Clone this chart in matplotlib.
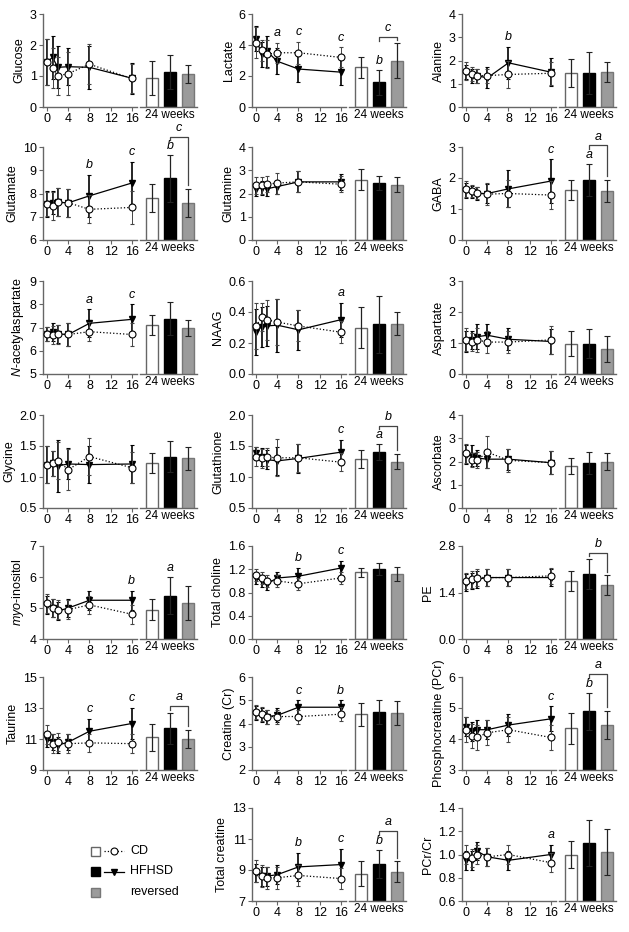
import matplotlib.pyplot as plt
from matplotlib.patches import Rectangle
from matplotlib.lines import Line2D

plt.rcParams['font.family'] = ['Liberation Sans', 'DejaVu Sans']
plt.rcParams['mathtext.fontset'] = 'custom'
plt.rcParams['mathtext.rm'] = 'Liberation Sans'
plt.rcParams['mathtext.it'] = 'Liberation Sans:italic'

# data
weeks = [0, 1, 2, 4, 8, 16]
groups = ['CD', 'HFHSD', 'reversed']

names = ['Glucose', 'Lactate', 'Alanine',
         'Glutamate', 'Glutamine', 'GABA',
         r'$\it{N}$-acetylaspartate', 'NAAG', 'Aspartate',
         'Glycine', 'Glutathione', 'Ascorbate',
         r'$\it{myo}$-inositol', 'Total choline', 'PE',
         'Taurine', 'Creatine (Cr)', 'Phosphocreatine (PCr)',
         'Total creatine', 'PCr/Cr']

cd_mean = [[1.45, 1.25, 1.0, 1.08, 1.38, 0.92],
           [4.15, 3.65, 3.4, 3.5, 3.5, 3.2],
           [1.55, 1.4, 1.35, 1.35, 1.4, 1.45],
           [7.55, 7.45, 7.62, 7.6, 7.32, 7.4],
           [2.35, 2.35, 2.4, 2.45, 2.5, 2.4],
           [1.65, 1.58, 1.52, 1.48, 1.5, 1.45],
           [6.72, 6.68, 6.7, 6.7, 6.82, 6.7],
           [0.31, 0.365, 0.35, 0.335, 0.31, 0.27],
           [1.1, 1.03, 1.1, 1.03, 1.03, 1.1],
           [1.2, 1.22, 1.26, 1.12, 1.33, 1.15],
           [1.33, 1.3, 1.32, 1.31, 1.31, 1.24],
           [2.35, 2.05, 2.05, 2.4, 2.05, 1.95],
           [5.15, 5.0, 4.95, 4.95, 5.1, 4.8],
           [1.1, 1.05, 1.0, 1.0, 0.95, 1.05],
           [1.75, 1.8, 1.85, 1.85, 1.85, 1.9],
           [11.3, 10.7, 10.8, 10.7, 10.75, 10.7],
           [4.5, 4.4, 4.3, 4.3, 4.3, 4.4],
           [4.3, 4.1, 4.05, 4.2, 4.3, 4.05],
           [8.95, 8.6, 8.5, 8.5, 8.65, 8.45],
           [1.0, 0.97, 1.0, 0.98, 1.0, 0.93]]
cd_sd = [[0.75, 0.65, 0.6, 0.7, 0.65, 0.47],
         [1.0, 0.7, 0.9, 0.65, 0.7, 0.65],
         [0.4, 0.3, 0.3, 0.3, 0.6, 0.5],
         [0.5, 0.6, 0.6, 0.6, 0.6, 0.7],
         [0.35, 0.35, 0.35, 0.45, 0.45, 0.35],
         [0.25, 0.2, 0.2, 0.35, 0.45, 0.45],
         [0.3, 0.4, 0.4, 0.5, 0.4, 0.5],
         [0.15, 0.09, 0.13, 0.15, 0.1, 0.07],
         [0.37, 0.3, 0.4, 0.35, 0.35, 0.45],
         [0.3, 0.2, 0.3, 0.33, 0.3, 0.25],
         [0.15, 0.15, 0.15, 0.3, 0.23, 0.15],
         [0.4, 0.3, 0.35, 0.7, 0.5, 0.5],
         [0.3, 0.3, 0.3, 0.3, 0.3, 0.3],
         [0.1, 0.1, 0.1, 0.1, 0.1, 0.1],
         [0.25, 0.25, 0.25, 0.25, 0.25, 0.25],
         [0.6, 0.6, 0.6, 0.6, 0.6, 0.6],
         [0.3, 0.3, 0.3, 0.3, 0.3, 0.3],
         [0.4, 0.4, 0.4, 0.4, 0.4, 0.4],
         [0.7, 0.7, 0.7, 0.7, 0.7, 0.7],
         [0.08, 0.08, 0.08, 0.08, 0.08, 0.08]]
hf_mean = [[1.45, 1.6, 1.28, 1.3, 1.28, 0.93],
           [4.4, 3.4, 3.6, 2.95, 2.45, 2.25],
           [1.5, 1.35, 1.35, 1.25, 1.9, 1.5],
           [7.55, 7.6, 7.62, 7.6, 7.9, 8.45],
           [2.2, 2.25, 2.2, 2.3, 2.5, 2.5],
           [1.6, 1.55, 1.5, 1.5, 1.65, 1.9],
           [6.72, 6.8, 6.72, 6.7, 7.18, 7.35],
           [0.27, 0.305, 0.31, 0.315, 0.285, 0.35],
           [1.05, 1.1, 1.2, 1.25, 1.12, 1.05],
           [1.2, 1.22, 1.18, 1.21, 1.2, 1.21],
           [1.38, 1.32, 1.28, 1.26, 1.3, 1.4],
           [2.3, 2.25, 2.15, 2.1, 2.1, 1.95],
           [5.1, 5.0, 4.9, 5.0, 5.25, 5.25],
           [1.05, 1.0, 0.95, 1.05, 1.08, 1.22],
           [1.7, 1.75, 1.8, 1.85, 1.85, 1.85],
           [11.0, 10.8, 10.6, 10.8, 11.5, 12.0],
           [4.45, 4.35, 4.3, 4.35, 4.7, 4.7],
           [4.4, 4.25, 4.3, 4.3, 4.45, 4.65],
           [8.8, 8.6, 8.6, 8.7, 9.2, 9.35],
           [0.95, 0.95, 1.03, 0.98, 0.95, 1.0]]
hf_sd = [[0.75, 0.7, 0.68, 0.6, 0.7, 0.5],
         [0.8, 0.8, 1.0, 0.85, 0.85, 0.85],
         [0.3, 0.3, 0.3, 0.45, 0.7, 0.6],
         [0.55, 0.5, 0.6, 0.6, 0.9, 0.9],
         [0.3, 0.3, 0.3, 0.3, 0.45, 0.35],
         [0.25, 0.2, 0.2, 0.3, 0.6, 0.7],
         [0.3, 0.4, 0.4, 0.5, 0.6, 0.65],
         [0.15, 0.13, 0.13, 0.17, 0.13, 0.11],
         [0.35, 0.3, 0.4, 0.35, 0.35, 0.4],
         [0.3, 0.2, 0.42, 0.25, 0.3, 0.3],
         [0.1, 0.15, 0.15, 0.23, 0.23, 0.2],
         [0.4, 0.45, 0.35, 0.4, 0.45, 0.5],
         [0.3, 0.3, 0.3, 0.3, 0.3, 0.3],
         [0.1, 0.1, 0.1, 0.1, 0.15, 0.13],
         [0.25, 0.25, 0.25, 0.25, 0.25, 0.25],
         [0.5, 0.5, 0.5, 0.5, 0.8, 1.0],
         [0.3, 0.3, 0.3, 0.3, 0.3, 0.3],
         [0.3, 0.3, 0.3, 0.3, 0.35, 0.4],
         [0.6, 0.6, 0.6, 0.6, 0.9, 1.0],
         [0.08, 0.08, 0.08, 0.08, 0.08, 0.08]]
bar_mean = [[0.93, 1.12, 1.07], [2.55, 1.6, 3.0], [1.45, 1.45, 1.5],
            [7.8, 8.65, 7.6], [2.6, 2.45, 2.38], [1.62, 1.93, 1.58],
            [7.1, 7.38, 6.97], [0.3, 0.32, 0.325], [0.98, 0.98, 0.82],
            [1.23, 1.33, 1.3], [1.29, 1.4, 1.25], [1.82, 1.95, 2.0],
            [4.95, 5.4, 5.15], [1.15, 1.2, 1.12], [1.75, 1.95, 1.62],
            [11.1, 11.7, 11.0], [4.4, 4.5, 4.45], [4.35, 4.9, 4.45],
            [8.75, 9.4, 8.9], [1.0, 1.1, 1.02]]
bar_sd = [[0.55, 0.55, 0.3], [0.65, 0.8, 1.1], [0.6, 0.9, 0.42],
          [0.6, 1.0, 0.6], [0.45, 0.3, 0.32], [0.33, 0.52, 0.35],
          [0.42, 0.7, 0.35], [0.13, 0.185, 0.075], [0.4, 0.47, 0.42],
          [0.16, 0.25, 0.19], [0.15, 0.13, 0.12], [0.35, 0.48, 0.38],
          [0.35, 0.6, 0.55], [0.08, 0.1, 0.12], [0.3, 0.45, 0.3],
          [0.9, 1.0, 0.6], [0.5, 0.5, 0.5], [0.5, 0.6, 0.45],
          [0.8, 0.9, 0.65], [0.12, 0.2, 0.2]]

# significance letters: time point letters, letter over HFHSD bar, bracket HFHSD vs reversed
time_letters = [{}, {4: 'a', 8: 'c', 16: 'c'}, {8: 'b'},
                {8: 'b', 16: 'c'}, {}, {16: 'c'},
                {8: 'a', 16: 'c'}, {16: 'a'}, {},
                {}, {16: 'c'}, {},
                {16: 'b'}, {8: 'b', 16: 'c'}, {},
                {8: 'c', 16: 'c'}, {8: 'c', 16: 'b'}, {16: 'c'},
                {8: 'b', 16: 'c'}, {16: 'a'}]
bar_letters = ['', 'b', '', 'b', '', 'a', '', '', '', '', 'a', '',
               'a', '', '', '', '', 'b', 'b', '']
bracket_letters = ['', 'c', '', 'c', '', 'a', '', '', '', '', 'b', '',
                   '', '', 'b', 'a', '', 'a', 'a', '']

ylims = [(0, 3), (0, 6), (0, 4), (6, 10), (0, 4), (0, 3), (5, 9), (0, 0.6),
         (0, 3), (0.5, 2.0), (0.5, 2.0), (0, 4), (4, 7), (0, 1.6), (0, 2.8),
         (9, 15), (2, 6), (3, 6), (7, 13), (0.6, 1.4)]
yticks = [[0, 1, 2, 3], [0, 2, 4, 6], [0, 1, 2, 3, 4], [6, 7, 8, 9, 10],
          [0, 1, 2, 3, 4], [0, 1, 2, 3], [5, 6, 7, 8, 9], [0.0, 0.2, 0.4, 0.6],
          [0, 1, 2, 3], [0.5, 1.0, 1.5, 2.0], [0.5, 1.0, 1.5, 2.0], [0, 1, 2, 3, 4],
          [4, 5, 6, 7], [0.0, 0.4, 0.8, 1.2, 1.6], [0.0, 1.4, 2.8],
          [9, 11, 13, 15], [2, 3, 4, 5, 6], [3, 4, 5, 6], [7, 9, 11, 13],
          [0.6, 0.8, 1.0, 1.2, 1.4]]
ytick_fmt = ['{:.0f}', '{:.0f}', '{:.0f}', '{:.0f}', '{:.0f}', '{:.0f}', '{:.0f}', '{:.1f}',
             '{:.0f}', '{:.1f}', '{:.1f}', '{:.0f}', '{:.0f}', '{:.1f}', '{:.1f}',
             '{:.0f}', '{:.0f}', '{:.0f}', '{:.0f}', '{:.1f}']

# layout (pixels)
W, H = 629, 932
fig = plt.figure(figsize=(W / 100, H / 100), dpi=100)
col_x = [43, 252, 462]
row_y = [14, 147, 281, 415, 546, 677, 808]
line_w, bar_off, bar_w, ax_h = 94, 97, 57, 93
slots = [i for i in range(21) if i != 18]
spine_c = '#666666'
bar_colors = ['white', 'black', '#9b9b9b']
bar_edges = ['#666666', 'black', '#777777']
fs = 9


def px_axes(x, y, w, h):
    return fig.add_axes([x / W, 1 - (y + h) / H, w / W, h / H])


def style(ax):
    for s in ['top', 'right']:
        ax.spines[s].set_visible(False)
    for s in ['left', 'bottom']:
        ax.spines[s].set_color(spine_c)
        ax.spines[s].set_linewidth(1)
    ax.tick_params(length=3, width=0.8, color=spine_c, labelsize=fs, pad=1.5)


for i, slot in enumerate(slots):
    r, c = divmod(slot, 3)
    x0, y0 = col_x[c], row_y[r]
    lo, hi = ylims[i]
    rng = hi - lo

    # time course
    ax = px_axes(x0, y0, line_w, ax_h)
    ax.errorbar(weeks, hf_mean[i], yerr=hf_sd[i], color='k', lw=0.9, marker='v', ms=4,
                capsize=1.5, elinewidth=1.2, capthick=0.8, zorder=2, clip_on=False)
    ax.errorbar(weeks, cd_mean[i], yerr=cd_sd[i], color='k', ls=':', lw=0.9, marker='o',
                mfc='white', mec='k', mew=0.8, ms=5, ecolor='#444444', capsize=1.5,
                elinewidth=0.7, capthick=0.7, zorder=3, clip_on=False)
    ax.set_xlim(-0.8, 17)
    ax.set_ylim(lo, hi)
    ax.set_xticks([0, 4, 8, 12, 16])
    ax.set_yticks(yticks[i])
    ax.set_yticklabels([ytick_fmt[i].format(v) for v in yticks[i]])
    ax.set_ylabel(names[i], fontsize=fs, labelpad=3)
    style(ax)
    for t, letter in time_letters[i].items():
        k = weeks.index(t)
        top = max(cd_mean[i][k] + cd_sd[i][k], hf_mean[i][k] + hf_sd[i][k])
        ax.text(t, top + 0.04 * rng, letter, style='italic', fontsize=fs,
                ha='center', va='bottom', clip_on=False)

    # 24 weeks bars
    bx = px_axes(x0 + bar_off, y0, bar_w, ax_h)
    bx.bar([0, 1, 2], bar_mean[i], width=0.62, color=bar_colors, edgecolor=bar_edges,
           linewidth=1, zorder=2)
    bx.errorbar([0, 1, 2], bar_mean[i], yerr=bar_sd[i], fmt='none', ecolor='#222222',
                elinewidth=0.9, capsize=2, capthick=0.8, zorder=3)
    bx.set_xlim(-0.67, 2.5)
    bx.set_ylim(lo, hi)
    bx.set_yticks([])
    bx.spines['left'].set_visible(False)
    style(bx)
    bx.set_xticks([1])
    bx.set_xticklabels(['24 weeks'], fontsize=8.5)
    bx.tick_params(axis='x', length=0)

    h_top = bar_mean[i][1] + bar_sd[i][1]
    r_top = bar_mean[i][2] + bar_sd[i][2]
    letter_top = h_top
    if bar_letters[i]:
        bx.text(1, h_top + 0.03 * rng, bar_letters[i], style='italic', fontsize=fs,
                ha='center', va='bottom', clip_on=False)
        letter_top = h_top + 0.13 * rng
    if bracket_letters[i]:
        yb = max(letter_top, r_top) + 0.07 * rng
        bx.plot([1, 1, 2, 2], [yb - 0.04 * rng, yb, yb, r_top + 0.04 * rng],
                color='#444444', lw=0.9, clip_on=False)
        bx.text(1.5, yb + 0.03 * rng, bracket_letters[i], style='italic', fontsize=fs,
                ha='center', va='bottom', clip_on=False)

# legend
lx = px_axes(85, 840, 120, 62)
lx.set_xlim(0, 120)
lx.set_ylim(62, 0)
lx.axis('off')
for j, g in enumerate(groups):
    yc = 11 + j * 20.5
    lx.add_patch(Rectangle((6, yc - 4.5), 9, 9, facecolor=bar_colors[j],
                           edgecolor=bar_edges[j], lw=1))
    if j == 0:
        lx.add_line(Line2D([19, 39], [yc, yc], color='k', ls=':', lw=0.9))
        lx.add_line(Line2D([29], [yc], marker='o', mfc='white', mec='k', ms=5, mew=0.8))
    elif j == 1:
        lx.add_line(Line2D([19, 39], [yc, yc], color='k', lw=0.9))
        lx.add_line(Line2D([29], [yc], marker='v', color='k', ms=4))
    lx.text(45, yc, g, fontsize=fs, va='center', ha='left')

fig.savefig('out.png', dpi=100)
